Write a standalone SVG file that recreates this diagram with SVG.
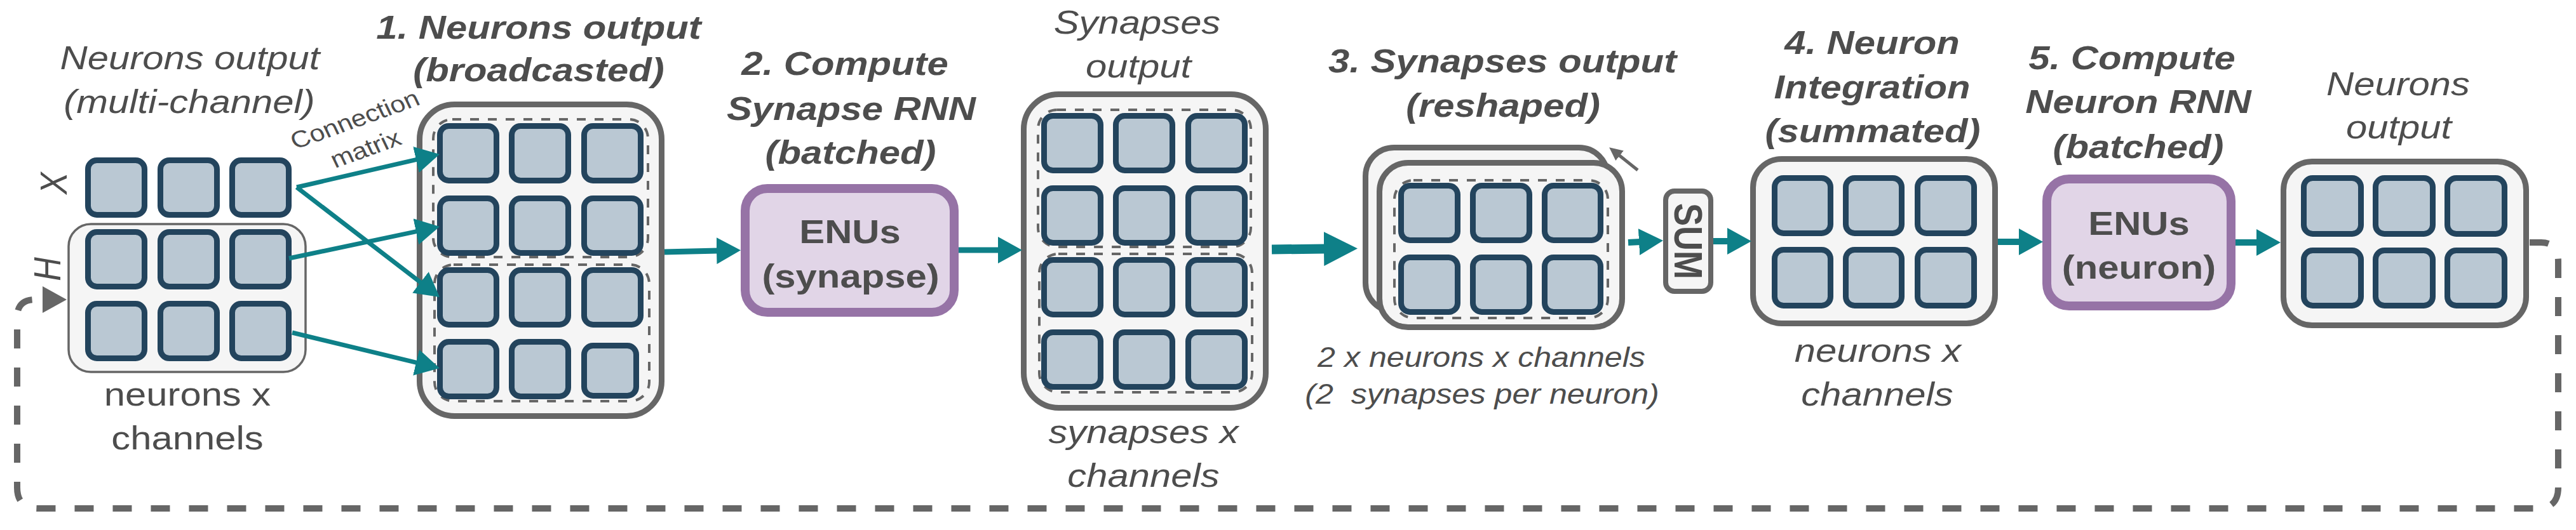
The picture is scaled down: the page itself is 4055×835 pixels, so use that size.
<svg xmlns="http://www.w3.org/2000/svg" width="4055" height="835" viewBox="0 0 4055 835">
<style>
.t{font-family:"Liberation Sans",Arial,sans-serif;fill:#4d4d4d;text-anchor:middle;font-size:52px}
.i{font-style:italic}
.b{font-weight:bold}
.s{font-size:44px}
.c{font-size:37px}
.sq{fill:#bac8d3;stroke:#23445d;stroke-width:9}
.box{fill:#f5f5f5;stroke:#666666;stroke-width:9}
.thin{fill:#f5f5f5;stroke:#666666;stroke-width:3.5}
.dash{fill:none;stroke:#666666;stroke-width:4;stroke-dasharray:14 14}
.enu{fill:#e1d5e7;stroke:#9673a6;stroke-width:14}
.ar{fill:none;stroke:#0e8088}
</style>
<defs>
<marker id="ah" markerUnits="userSpaceOnUse" markerWidth="40" markerHeight="42" refX="2" refY="21" orient="auto" viewBox="0 0 40 42"><path d="M0,0 L38,21 L0,42 Z" fill="#0e8088"/></marker>
<marker id="ahL" markerUnits="userSpaceOnUse" markerWidth="56" markerHeight="54" refX="2" refY="27" orient="auto" viewBox="0 0 56 54"><path d="M0,0 L53,27 L0,54 Z" fill="#0e8088"/></marker>
<marker id="ahG" markerUnits="userSpaceOnUse" markerWidth="40" markerHeight="42" refX="2" refY="21" orient="auto" viewBox="0 0 40 42"><path d="M0,0 L38,21 L0,42 Z" fill="#666666"/></marker>
<marker id="ahS" markerUnits="userSpaceOnUse" markerWidth="22" markerHeight="20" refX="2" refY="10" orient="auto" viewBox="0 0 22 20"><path d="M0,0 L21,10 L0,20 Z" fill="#666666"/></marker>
</defs>

<g id="input">
<text class="t i" transform="translate(299 109) scale(1.15 1)">Neurons output</text>
<text class="t i" transform="translate(298 178) scale(1.15 1)">(multi-channel)</text>
<text class="t i" transform="translate(105 289) scale(1.15 1) rotate(-90)">X</text>
<text class="t i" transform="translate(95 424) scale(1.15 1) rotate(-90)">H</text>
<rect class="thin" x="108" y="353" width="373" height="233" rx="35"/>
<rect class="sq" x="138.5" y="252.5" width="89" height="86" rx="14"/>
<rect class="sq" x="252.5" y="252.5" width="89" height="86" rx="14"/>
<rect class="sq" x="365.5" y="252.5" width="89" height="86" rx="14"/>
<rect class="sq" x="138.5" y="365.5" width="89" height="86" rx="14"/>
<rect class="sq" x="252.5" y="365.5" width="89" height="86" rx="14"/>
<rect class="sq" x="365.5" y="365.5" width="89" height="86" rx="14"/>
<rect class="sq" x="138.5" y="478.5" width="89" height="86" rx="14"/>
<rect class="sq" x="252.5" y="478.5" width="89" height="86" rx="14"/>
<rect class="sq" x="365.5" y="478.5" width="89" height="86" rx="14"/>
<text class="t" transform="translate(295 639) scale(1.15 1)">neurons x</text>
<text class="t" transform="translate(295 708) scale(1.15 1)">channels</text>
<text class="t c" transform="translate(564 200) scale(1.15 1) rotate(-22.5)">Connection</text>
<text class="t c" transform="translate(581 246) scale(1.15 1) rotate(-22.5)">matrix</text>
</g>

<g id="broadcast">
<text class="t i b" transform="translate(848 61) scale(1.15 1)">1. Neurons output</text>
<text class="t i b" transform="translate(848 128) scale(1.15 1)">(broadcasted)</text>
<rect class="box" x="660.5" y="164.5" width="381" height="491" rx="55"/>
<rect class="dash" x="682" y="188" width="338" height="217" rx="30"/>
<rect class="dash" x="684" y="417" width="338" height="215" rx="30"/>
<rect class="sq" x="692.5" y="198.5" width="89" height="86" rx="14"/>
<rect class="sq" x="805.5" y="198.5" width="89" height="86" rx="14"/>
<rect class="sq" x="919.5" y="198.5" width="89" height="86" rx="14"/>
<rect class="sq" x="692.5" y="312.5" width="89" height="86" rx="14"/>
<rect class="sq" x="805.5" y="312.5" width="89" height="86" rx="14"/>
<rect class="sq" x="919.5" y="312.5" width="89" height="86" rx="14"/>
<rect class="sq" x="692.5" y="425.5" width="89" height="86" rx="14"/>
<rect class="sq" x="805.5" y="425.5" width="89" height="86" rx="14"/>
<rect class="sq" x="919.5" y="425.5" width="89" height="86" rx="14"/>
<rect class="sq" x="692.5" y="538.5" width="89" height="86" rx="14"/>
<rect class="sq" x="805.5" y="538.5" width="89" height="86" rx="14"/>
<rect class="sq" x="919.5" y="544.5" width="82" height="79" rx="14"/>
</g>

<g id="synapse-rnn">
<text class="t i b" transform="translate(1330 118) scale(1.15 1)">2. Compute</text>
<text class="t i b" transform="translate(1340 189) scale(1.15 1)">Synapse RNN</text>
<text class="t i b" transform="translate(1339 258) scale(1.15 1)">(batched)</text>
<rect class="enu" x="1173" y="297" width="329" height="195" rx="35"/>
<text class="t b" transform="translate(1338 383) scale(1.15 1)">ENUs</text>
<text class="t b" transform="translate(1339 453) scale(1.15 1)">(synapse)</text>
</g>

<g id="synapses-output">
<text class="t i" transform="translate(1790 53) scale(1.15 1)">Synapses</text>
<text class="t i" transform="translate(1792 122) scale(1.15 1)">output</text>
<rect class="box" x="1611.5" y="148.5" width="381" height="494" rx="55"/>
<rect class="dash" x="1634" y="173" width="335" height="216" rx="30"/>
<rect class="dash" x="1636" y="400" width="335" height="218" rx="30"/>
<rect class="sq" x="1643.5" y="182.5" width="89" height="86" rx="14"/>
<rect class="sq" x="1756.5" y="182.5" width="89" height="86" rx="14"/>
<rect class="sq" x="1870.5" y="182.5" width="89" height="86" rx="14"/>
<rect class="sq" x="1643.5" y="296.5" width="89" height="86" rx="14"/>
<rect class="sq" x="1756.5" y="296.5" width="89" height="86" rx="14"/>
<rect class="sq" x="1870.5" y="296.5" width="89" height="86" rx="14"/>
<rect class="sq" x="1643.5" y="409.5" width="89" height="86" rx="14"/>
<rect class="sq" x="1756.5" y="409.5" width="89" height="86" rx="14"/>
<rect class="sq" x="1870.5" y="409.5" width="89" height="86" rx="14"/>
<rect class="sq" x="1643.5" y="523.5" width="89" height="86" rx="14"/>
<rect class="sq" x="1756.5" y="523.5" width="89" height="86" rx="14"/>
<rect class="sq" x="1870.5" y="523.5" width="89" height="86" rx="14"/>
<text class="t i" transform="translate(1800 698) scale(1.15 1)">synapses x</text>
<text class="t i" transform="translate(1800 767) scale(1.15 1)">channels</text>
</g>

<g id="reshaped">
<text class="t i b" transform="translate(2365 114) scale(1.15 1)">3. Synapses output</text>
<text class="t i b" transform="translate(2366 184) scale(1.15 1)">(reshaped)</text>
<rect class="box" x="2149.5" y="232.5" width="381" height="258" rx="45"/>
<rect class="box" x="2171.5" y="256.5" width="382" height="259" rx="45"/>
<rect class="dash" x="2195" y="284" width="336" height="217" rx="30"/>
<rect class="sq" x="2205.5" y="292.5" width="89" height="86" rx="14"/>
<rect class="sq" x="2318.5" y="292.5" width="89" height="86" rx="14"/>
<rect class="sq" x="2431.5" y="292.5" width="88" height="86" rx="14"/>
<rect class="sq" x="2205.5" y="405.5" width="89" height="86" rx="14"/>
<rect class="sq" x="2318.5" y="405.5" width="89" height="86" rx="14"/>
<rect class="sq" x="2431.5" y="405.5" width="88" height="86" rx="14"/>
<text class="t i s" transform="translate(2332 578) scale(1.14 1)">2 x neurons x channels</text>
<text class="t i s" transform="translate(2333 636) scale(1.14 1)" style="white-space:pre" xml:space="preserve">(2  synapses per neuron)</text>
</g>

<g id="sum">
<rect class="box" x="2622" y="301" width="71" height="158" rx="14" style="stroke-width:8"/>
<text class="t b" transform="translate(2636 380) scale(1.15 1) rotate(90)" style="font-size:54px">SUM</text>
</g>

<g id="integration">
<text class="t i b" transform="translate(2947 85) scale(1.15 1)">4. Neuron</text>
<text class="t i b" transform="translate(2947 155) scale(1.15 1)">Integration</text>
<text class="t i b" transform="translate(2948 224) scale(1.15 1)">(summated)</text>
<rect class="box" x="2759.5" y="250.5" width="381" height="259" rx="45"/>
<rect class="sq" x="2793.5" y="280.5" width="88" height="87" rx="14"/>
<rect class="sq" x="2905.5" y="280.5" width="88" height="87" rx="14"/>
<rect class="sq" x="3018.5" y="280.5" width="89" height="87" rx="14"/>
<rect class="sq" x="2793.5" y="393.5" width="88" height="88" rx="14"/>
<rect class="sq" x="2905.5" y="393.5" width="88" height="88" rx="14"/>
<rect class="sq" x="3018.5" y="393.5" width="89" height="88" rx="14"/>
<text class="t i" transform="translate(2956 570) scale(1.15 1)">neurons x</text>
<text class="t i" transform="translate(2955 639) scale(1.15 1)">channels</text>
</g>

<g id="neuron-rnn">
<text class="t i b" transform="translate(3356 109) scale(1.15 1)">5. Compute</text>
<text class="t i b" transform="translate(3366 178) scale(1.15 1)">Neuron RNN</text>
<text class="t i b" transform="translate(3366 249) scale(1.15 1)">(batched)</text>
<rect class="enu" x="3222" y="282" width="290" height="200" rx="35"/>
<text class="t b" transform="translate(3367 370) scale(1.15 1)">ENUs</text>
<text class="t b" transform="translate(3367 439) scale(1.15 1)">(neuron)</text>
</g>

<g id="neurons-output">
<text class="t i" transform="translate(3775 150) scale(1.15 1)">Neurons</text>
<text class="t i" transform="translate(3776 218) scale(1.15 1)">output</text>
<rect class="box" x="3594.5" y="254.5" width="382" height="258" rx="45"/>
<rect class="sq" x="3626.5" y="280.5" width="90" height="88" rx="14"/>
<rect class="sq" x="3739.5" y="280.5" width="90" height="88" rx="14"/>
<rect class="sq" x="3852.5" y="280.5" width="90" height="88" rx="14"/>
<rect class="sq" x="3626.5" y="394.5" width="90" height="87" rx="14"/>
<rect class="sq" x="3739.5" y="394.5" width="90" height="87" rx="14"/>
<rect class="sq" x="3852.5" y="394.5" width="90" height="87" rx="14"/>
</g>

<g id="connectors">
<path class="ar" d="M467,295 L656.9,251.1" stroke-width="7" marker-end="url(#ah)"/>
<path class="ar" d="M455,407 L656.8,364.4" stroke-width="7" marker-end="url(#ah)"/>
<path class="ar" d="M467,295 L663.5,446.1" stroke-width="7" marker-end="url(#ah)"/>
<path class="ar" d="M460,524 L657,571.6" stroke-width="7" marker-end="url(#ah)"/>
<path class="ar" d="M1046,397 L1130,395" stroke-width="9" marker-end="url(#ah)"/>
<path class="ar" d="M1509,394 L1573,394" stroke-width="9" marker-end="url(#ah)"/>
<path class="ar" d="M2002,393 L2086,392" stroke-width="15" marker-end="url(#ahL)"/>
<path class="ar" d="M2563,382 L2582,381" stroke-width="10" marker-end="url(#ah)"/>
<path class="ar" d="M2697,380 L2721,380" stroke-width="10" marker-end="url(#ah)"/>
<path class="ar" d="M3145,381 L3180,381" stroke-width="10" marker-end="url(#ah)"/>
<path class="ar" d="M3519,382 L3554,382" stroke-width="10" marker-end="url(#ah)"/>
<path d="M2578,268 L2548,244" fill="none" stroke="#666666" stroke-width="5" marker-end="url(#ahS)"/>
<path d="M3982,382 L4000,382 Q4027,382 4027,412 L4027,768 Q4027,801 3994,801 L60,801 Q27,801 27,768 L27,500 Q27,472 55,472 L69,472" fill="none" stroke="#666666" stroke-width="10" stroke-dasharray="30 30" marker-end="url(#ahG)"/>
</g>
</svg>
